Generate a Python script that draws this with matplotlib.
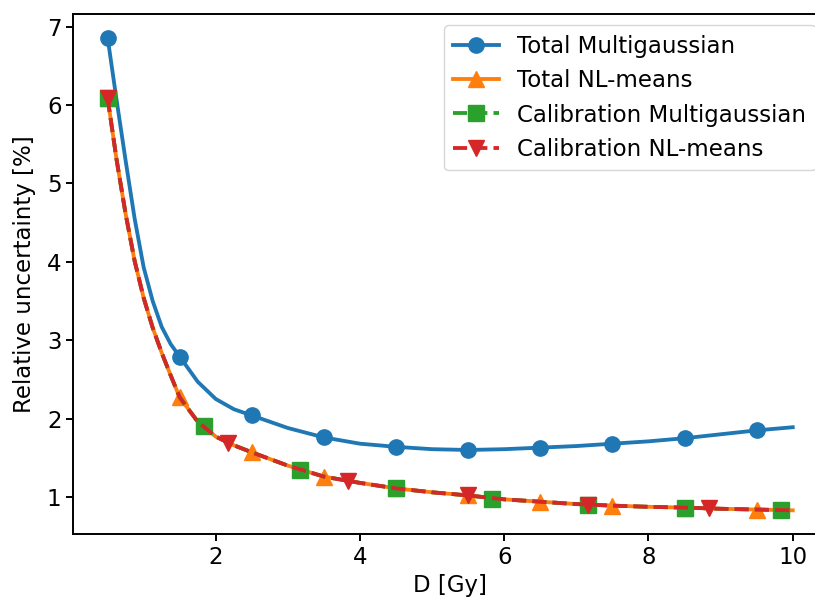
import matplotlib
matplotlib.use("Agg")
import matplotlib.pyplot as plt
from matplotlib.lines import Line2D

# line data
dose_line = [0.5, 0.625, 0.75, 0.875, 1.0, 1.125, 1.25, 1.375, 1.5, 1.75, 2.0, 2.25,
             2.5, 3.0, 3.5, 4.0, 4.5, 5.0, 5.5, 6.0, 6.5, 7.0, 7.5, 8.0, 8.5, 9.0,
             9.5, 10.0]
total_mg_line = [6.86, 6.06, 5.29, 4.55, 3.93, 3.50, 3.17, 2.95, 2.79, 2.47, 2.25, 2.12,
                 2.04, 1.88, 1.76, 1.68, 1.64, 1.61, 1.60, 1.61, 1.63, 1.65, 1.68, 1.71,
                 1.75, 1.80, 1.85, 1.89]
total_nl_line = [6.09, 5.30, 4.61, 4.01, 3.54, 3.16, 2.84, 2.55, 2.27, 1.96, 1.77, 1.66,
                 1.57, 1.40, 1.26, 1.18, 1.11, 1.06, 1.02, 0.97, 0.94, 0.91, 0.89, 0.875,
                 0.865, 0.85, 0.84, 0.83]
calib_mg_line = total_nl_line
calib_nl_line = total_nl_line

# marker positions
dose_total = [0.5, 1.5, 2.5, 3.5, 4.5, 5.5, 6.5, 7.5, 8.5, 9.5]
total_mg_pts = [6.86, 2.79, 2.04, 1.76, 1.64, 1.60, 1.63, 1.68, 1.75, 1.85]
total_nl_pts = [6.09, 2.27, 1.57, 1.26, 1.11, 1.02, 0.94, 0.89, 0.865, 0.84]
dose_calib_mg = [0.5, 1.833, 3.167, 4.5, 5.833, 7.167, 8.5, 9.833]
calib_mg_pts = [6.09, 1.90, 1.35, 1.11, 0.98, 0.90, 0.865, 0.835]
dose_calib_nl = [0.5, 2.167, 3.833, 5.5, 7.167, 8.833]
calib_nl_pts = [6.09, 1.69, 1.20, 1.02, 0.90, 0.855]

labels = ["Total Multigaussian", "Total NL-means",
          "Calibration Multigaussian", "Calibration NL-means"]

plt.rcParams["font.size"] = 16.5
plt.rcParams["axes.linewidth"] = 1.4

fig = plt.figure(figsize=(8.15, 6.05), dpi=100)
ax = fig.add_axes([0.09, 0.1174, 0.9247, 0.8595])

series = [
    (dose_line, total_mg_line, dose_total, total_mg_pts, "#1f77b4", "-", "o"),
    (dose_line, total_nl_line, dose_total, total_nl_pts, "#ff7f0e", "-", "^"),
    (dose_line, calib_mg_line, dose_calib_mg, calib_mg_pts, "#2ca02c", "--", "s"),
    (dose_line, calib_nl_line, dose_calib_nl, calib_nl_pts, "#d62728", "--", "v"),
]
handles = []
for (xl, yl, xm, ym, color, ls, mk), label in zip(series, labels):
    ax.plot(xl, yl, color=color, linestyle=ls, linewidth=2.75)
    ax.plot(xm, ym, color=color, linestyle="none", marker=mk, markersize=11)
    handles.append(Line2D([], [], color=color, linestyle=ls, linewidth=2.75,
                          marker=mk, markersize=11))

ax.set_xticks([2, 4, 6, 8, 10])
ax.set_yticks([1, 2, 3, 4, 5, 6, 7])
ax.tick_params(length=5, width=1.4)
ax.set_xlabel("D [Gy]")
ax.set_ylabel("Relative uncertainty [%]", labelpad=8)
ax.legend(handles, labels, loc="upper right")

fig.savefig("out.png", dpi=100)
